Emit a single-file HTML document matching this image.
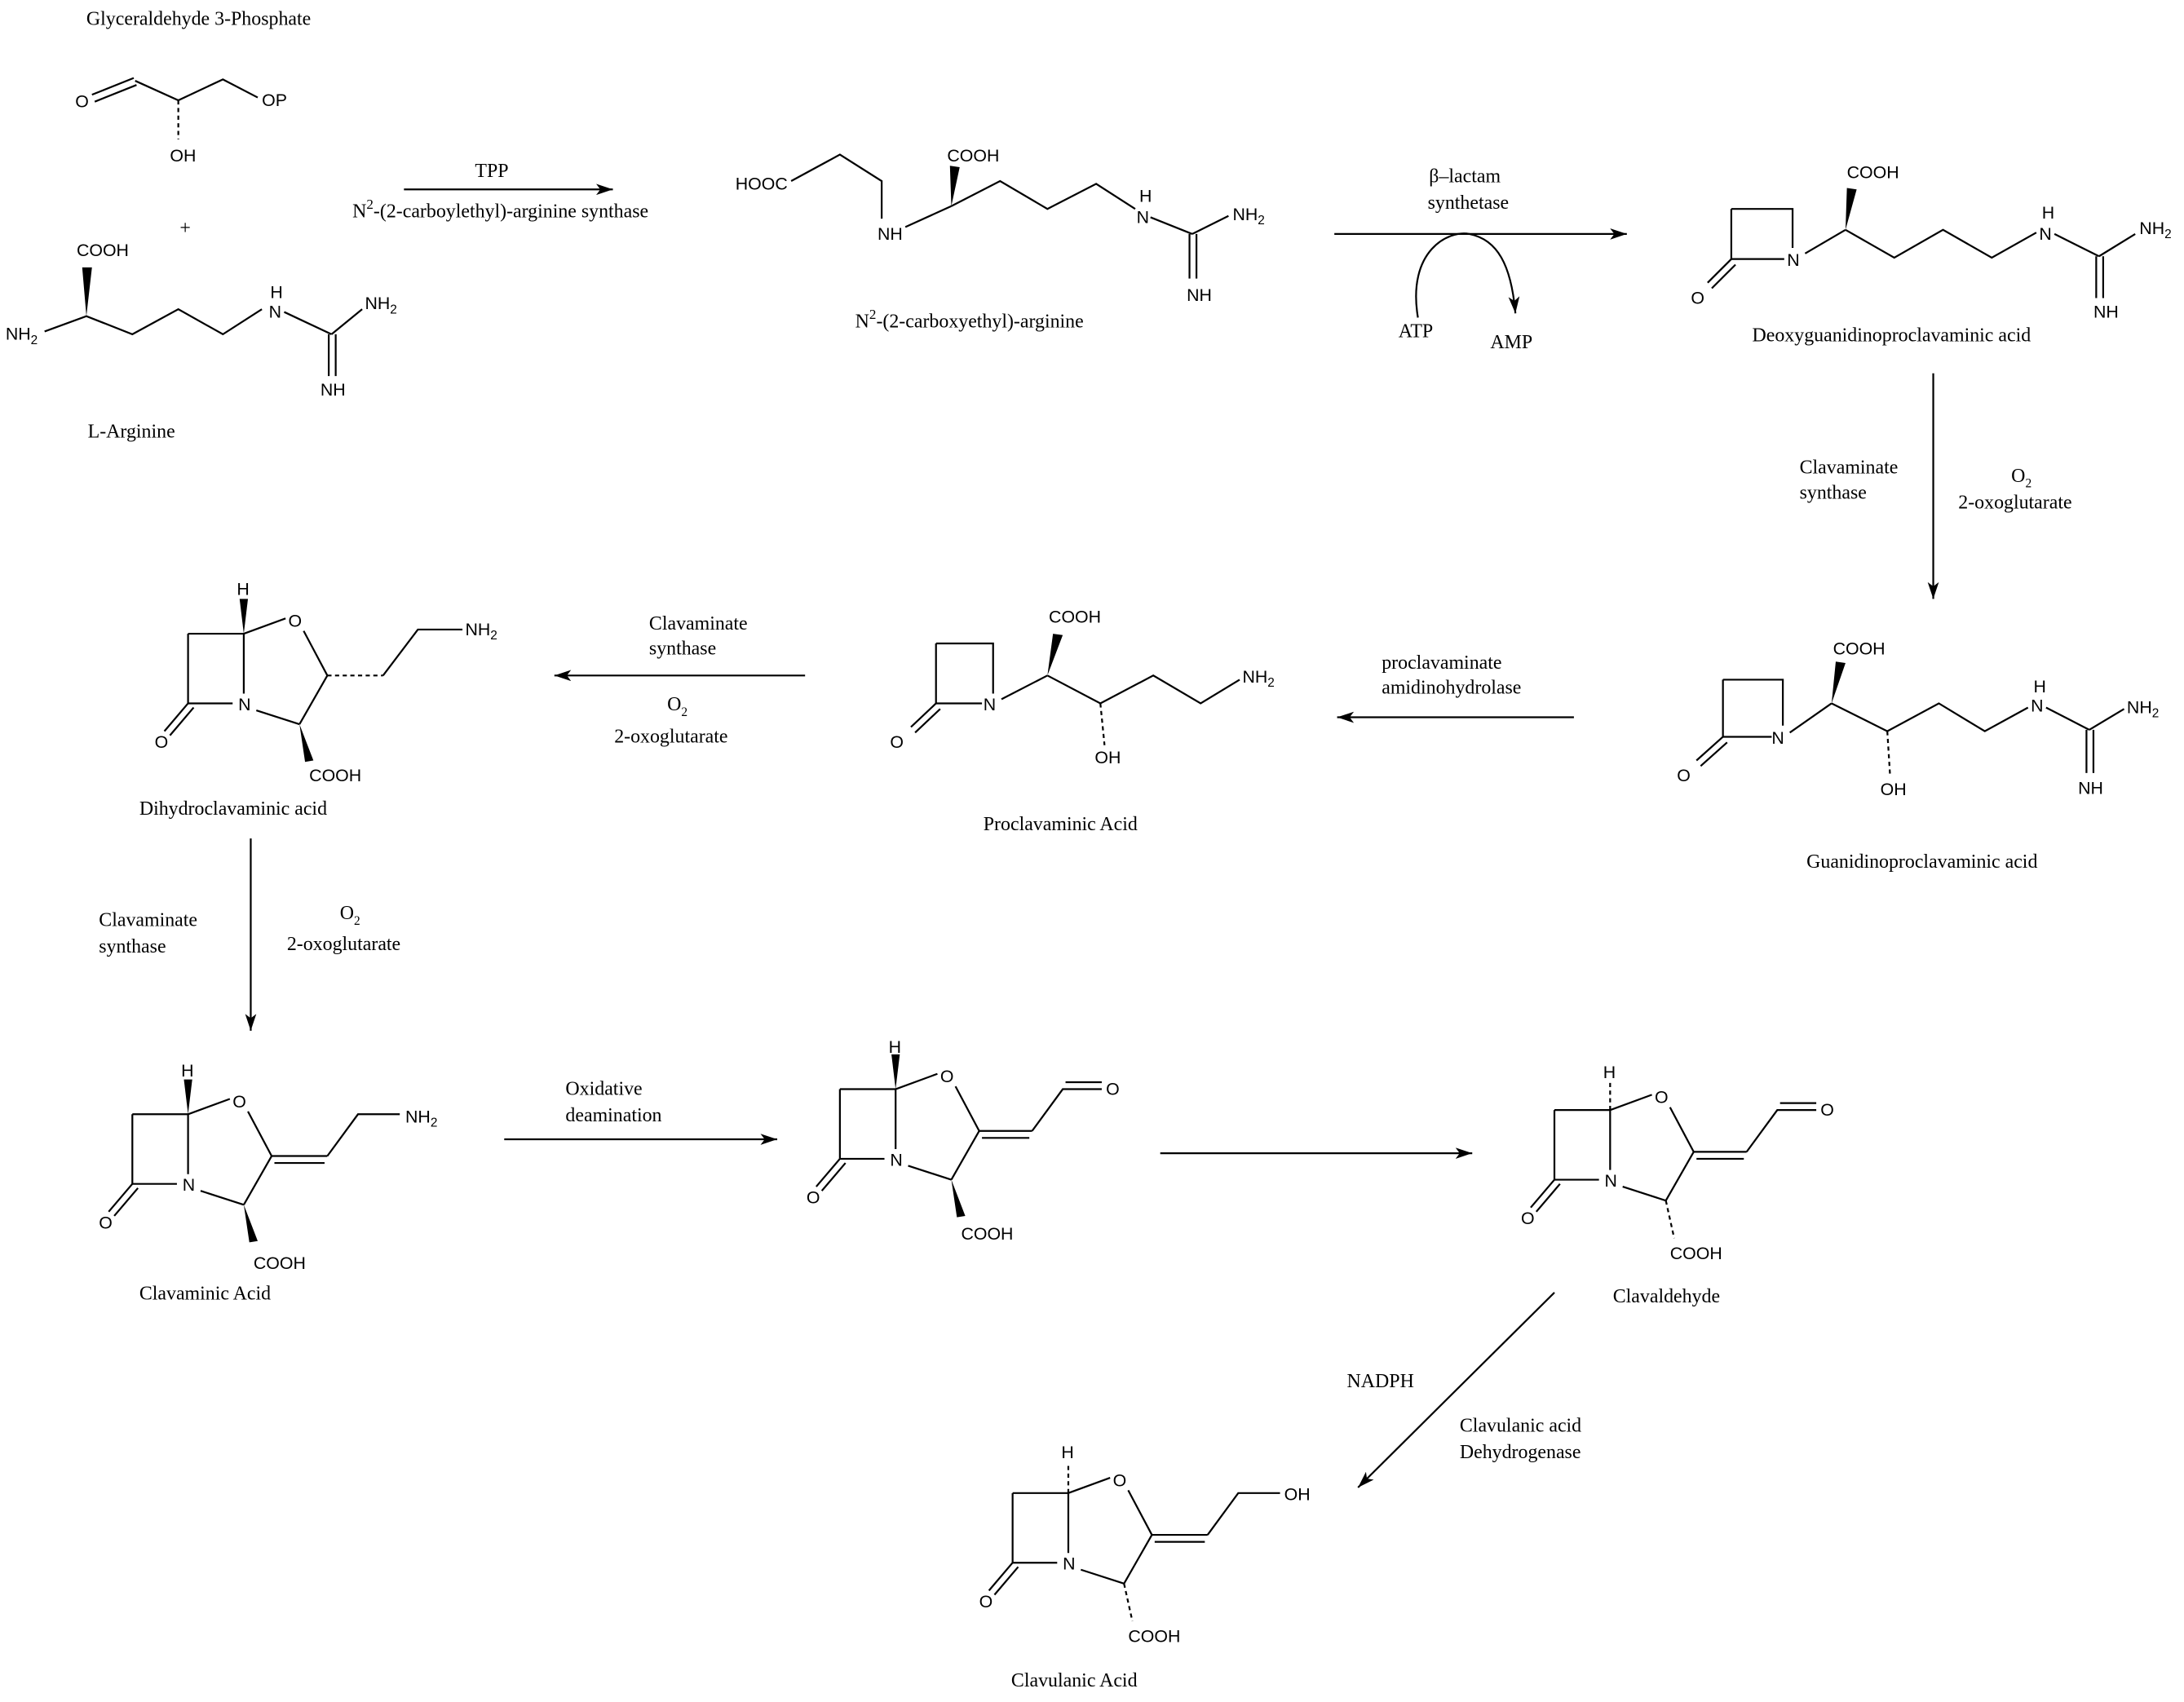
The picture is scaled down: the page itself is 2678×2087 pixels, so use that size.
<!DOCTYPE html>
<html><head><meta charset="utf-8"><style>
html,body{margin:0;padding:0;background:#fff}
svg{display:block}
.s{font-family:"Liberation Serif",serif;font-size:14px;fill:#000}
.a{font-family:"Liberation Sans",sans-serif;font-size:12.5px;fill:#000}
line,polyline,path{stroke:#000;stroke-width:1.3;fill:none}
.d{stroke-dasharray:3,2.5}
</style></head><body>
<svg width="2678" height="2087" viewBox="0 0 1568 1222" xmlns="http://www.w3.org/2000/svg">
<defs>
<marker id="ah" viewBox="0 0 12 8" refX="12" refY="4" markerWidth="12" markerHeight="8" markerUnits="userSpaceOnUse" orient="auto"><path d="M0,0 L12,4 L0,8 L3,4 Z" style="fill:#000;stroke:none"/></marker>
<g id="core">
 <polyline points="-40,0 0,0 0,43"/>
 <line x1="-40" y1="0" x2="-40" y2="50"/>
 <line x1="-40" y1="50" x2="-8" y2="50"/>
 <line x1="-40" y1="50" x2="-57" y2="70"/>
 <line x1="-36" y1="53" x2="-53" y2="73"/>
 <text class="a" x="-64" y="82">O</text>
 <text class="a" x="-4" y="55">N</text>
 <line x1="0" y1="0" x2="30" y2="-11"/>
 <text class="a" x="32" y="-5">O</text>
 <line x1="43" y1="-2" x2="60" y2="30"/>
 <line x1="60" y1="30" x2="40" y2="65"/>
 <line x1="9" y1="55" x2="40" y2="65"/>
</g>
</defs>

<!-- Glyceraldehyde -->
<text class="s" x="62" y="18">Glyceraldehyde 3-Phosphate</text>
<text class="a" x="54" y="77">O</text>
<line x1="66" y1="68" x2="96" y2="56"/><line x1="68" y1="73" x2="98" y2="61"/>
<polyline points="97,58 128,72 160,57 185,70"/>
<text class="a" x="188" y="76">OP</text>
<line class="d" x1="128" y1="72" x2="128" y2="100"/>
<text class="a" x="122" y="116">OH</text>
<text class="s" x="129" y="168">+</text>

<!-- L-Arginine -->
<text class="a" x="55" y="184">COOH</text>
<polygon points="62,227 59,192 66,192" fill="#000"/>
<text class="a" x="4" y="244">NH<tspan font-size="9" dy="3">2</tspan></text>
<polyline points="32,238 62,227 95,240 128,222 160,240 188,222"/>
<text class="a" x="193" y="228">N</text><text class="a" x="194" y="214">H</text>
<line x1="204" y1="224" x2="238" y2="240"/>
<line x1="238" y1="240" x2="260" y2="222"/>
<text class="a" x="262" y="222">NH<tspan font-size="9" dy="3">2</tspan></text>
<line x1="236" y1="240" x2="236" y2="270"/><line x1="241" y1="240" x2="241" y2="270"/>
<text class="a" x="230" y="284">NH</text>
<text class="s" x="63" y="314">L-Arginine</text>

<!-- arrow 1 -->
<line x1="290" y1="136" x2="440" y2="136" marker-end="url(#ah)"/>
<text class="s" x="341" y="127">TPP</text>
<text class="s" x="253" y="156">N<tspan font-size="10" dy="-6">2</tspan><tspan dy="6">-(2-carboylethyl)-arginine synthase</tspan></text>

<!-- N2-carboxyethyl-arginine -->
<text class="a" x="528" y="136">HOOC</text>
<polyline points="568,130 603,111 633,130 633,157"/>
<text class="a" x="630" y="172">NH</text>
<line x1="650" y1="163" x2="683" y2="148"/>
<polygon points="683,148 682,119 689,120" fill="#000"/>
<text class="a" x="680" y="116">COOH</text>
<polyline points="683,148 718,130 752,150 787,132 815,150"/>
<text class="a" x="816" y="160">N</text><text class="a" x="818" y="145">H</text>
<line x1="826" y1="156" x2="856" y2="168"/>
<line x1="856" y1="168" x2="882" y2="155"/>
<text class="a" x="885" y="158">NH<tspan font-size="9" dy="3">2</tspan></text>
<line x1="854" y1="168" x2="854" y2="200"/><line x1="859" y1="168" x2="859" y2="200"/>
<text class="a" x="852" y="216">NH</text>
<text class="s" x="614" y="235">N<tspan font-size="10" dy="-6">2</tspan><tspan dy="6">-(2-carboxyethyl)-arginine</tspan></text>

<!-- arrow 2 -->
<line x1="958" y1="168" x2="1168" y2="168" marker-end="url(#ah)"/>
<text class="s" x="1026" y="131">β–lactam</text>
<text class="s" x="1025" y="150">synthetase</text>
<path d="M1018,228 C1010,180 1040,165 1055,168 C1075,172 1085,190 1088,225" marker-end="url(#ah)"/>
<text class="s" x="1004" y="242">ATP</text>
<text class="s" x="1070" y="250">AMP</text>

<!-- Deoxyguanidinoproclavaminic -->
<polyline points="1243,150 1287,150 1287,178"/>
<line x1="1243" y1="150" x2="1243" y2="186"/>
<line x1="1243" y1="186" x2="1281" y2="186"/>
<line x1="1243" y1="186" x2="1226" y2="203"/><line x1="1246" y1="190" x2="1229" y2="207"/>
<text class="a" x="1214" y="218">O</text>
<text class="a" x="1283" y="191">N</text>
<line x1="1296" y1="182" x2="1325" y2="165"/>
<polygon points="1325,165 1326,135 1333,136" fill="#000"/>
<text class="a" x="1326" y="128">COOH</text>
<polyline points="1325,165 1360,185 1395,165 1430,185 1462,167"/>
<text class="a" x="1464" y="172">N</text><text class="a" x="1466" y="157">H</text>
<line x1="1475" y1="168" x2="1507" y2="184"/>
<line x1="1507" y1="184" x2="1533" y2="168"/>
<text class="a" x="1536" y="168">NH<tspan font-size="9" dy="3">2</tspan></text>
<line x1="1505" y1="184" x2="1505" y2="214"/><line x1="1510" y1="184" x2="1510" y2="214"/>
<text class="a" x="1503" y="228">NH</text>
<text class="s" x="1258" y="245">Deoxyguanidinoproclavaminic acid</text>

<!-- arrow 3 -->
<line x1="1388" y1="268" x2="1388" y2="430" marker-end="url(#ah)"/>
<text class="s" x="1292" y="340">Clavaminate</text>
<text class="s" x="1292" y="358">synthase</text>
<text class="s" x="1444" y="346">O<tspan font-size="9" dy="4">2</tspan></text>
<text class="s" x="1406" y="365">2-oxoglutarate</text>

<!-- Guanidinoproclavaminic -->
<polyline points="1237,488 1280,488 1280,521"/>
<line x1="1237" y1="488" x2="1237" y2="529"/>
<line x1="1237" y1="529" x2="1272" y2="529"/>
<line x1="1237" y1="529" x2="1218" y2="546"/><line x1="1240" y1="533" x2="1221" y2="550"/>
<text class="a" x="1204" y="561">O</text>
<text class="a" x="1272" y="534">N</text>
<line x1="1285" y1="526" x2="1315" y2="505"/>
<polygon points="1315,505 1318,475 1325,476" fill="#000"/>
<text class="a" x="1316" y="470">COOH</text>
<polyline points="1315,505 1355,525 1392,505 1425,525 1456,508"/>
<line class="d" x1="1355" y1="525" x2="1357" y2="557"/>
<text class="a" x="1350" y="571">OH</text>
<text class="a" x="1458" y="511">N</text><text class="a" x="1460" y="497">H</text>
<line x1="1469" y1="508" x2="1500" y2="524"/>
<line x1="1500" y1="524" x2="1525" y2="509"/>
<text class="a" x="1527" y="512">NH<tspan font-size="9" dy="3">2</tspan></text>
<line x1="1498" y1="524" x2="1498" y2="555"/><line x1="1503" y1="524" x2="1503" y2="555"/>
<text class="a" x="1492" y="570">NH</text>
<text class="s" x="1297" y="623">Guanidinoproclavaminic acid</text>

<!-- arrow 4 -->
<line x1="1130" y1="515" x2="960" y2="515" marker-end="url(#ah)"/>
<text class="s" x="992" y="480">proclavaminate</text>
<text class="s" x="992" y="498">amidinohydrolase</text>

<!-- Proclavaminic -->
<polyline points="672,462 713,462 713,498"/>
<line x1="672" y1="462" x2="672" y2="505"/>
<line x1="672" y1="505" x2="705" y2="505"/>
<line x1="672" y1="505" x2="654" y2="522"/><line x1="675" y1="509" x2="657" y2="526"/>
<text class="a" x="639" y="537">O</text>
<text class="a" x="706" y="510">N</text>
<line x1="719" y1="502" x2="752" y2="485"/>
<polygon points="752,485 756,455 763,456" fill="#000"/>
<text class="a" x="753" y="447">COOH</text>
<polyline points="752,485 790,505 828,485 862,505 890,488"/>
<line class="d" x1="790" y1="505" x2="793" y2="535"/>
<text class="a" x="786" y="548">OH</text>
<text class="a" x="892" y="490">NH<tspan font-size="9" dy="3">2</tspan></text>
<text class="s" x="706" y="596">Proclavaminic Acid</text>

<!-- arrow 5 -->
<line x1="578" y1="485" x2="398" y2="485" marker-end="url(#ah)"/>
<text class="s" x="466" y="452">Clavaminate</text>
<text class="s" x="466" y="470">synthase</text>
<text class="s" x="479" y="510">O<tspan font-size="9" dy="4">2</tspan></text>
<text class="s" x="441" y="533">2-oxoglutarate</text>

<!-- Dihydroclavaminic -->
<g transform="translate(175,455)">
 <use href="#core"/>
 <polygon points="0,0 -3,-25 3,-25" fill="#000"/>
 <text class="a" x="-5" y="-28">H</text>
 <polygon points="40,65 44,92 50,91" fill="#000"/>
 <text class="a" x="47" y="106">COOH</text>
 <line class="d" x1="60" y1="30" x2="100" y2="30"/>
 <polyline points="100,30 125,-3 157,-3"/>
 <text class="a" x="159" y="1">NH<tspan font-size="9" dy="3">2</tspan></text>
</g>
<text class="s" x="100" y="585">Dihydroclavaminic acid</text>

<!-- arrow 6 -->
<line x1="180" y1="602" x2="180" y2="740" marker-end="url(#ah)"/>
<text class="s" x="71" y="665">Clavaminate</text>
<text class="s" x="71" y="684">synthase</text>
<text class="s" x="244" y="660">O<tspan font-size="9" dy="4">2</tspan></text>
<text class="s" x="206" y="682">2-oxoglutarate</text>

<!-- Clavaminic acid -->
<g transform="translate(135,800)">
 <use href="#core"/>
 <polygon points="0,0 -3,-25 3,-25" fill="#000"/>
 <text class="a" x="-5" y="-27">H</text>
 <polygon points="40,65 44,92 50,91" fill="#000"/>
 <text class="a" x="47" y="111">COOH</text>
 <line x1="60" y1="30" x2="100" y2="30"/><line x1="62" y1="35" x2="98" y2="35"/>
 <polyline points="100,30 122,0 152,0"/>
 <text class="a" x="156" y="6">NH<tspan font-size="9" dy="3">2</tspan></text>
</g>
<text class="s" x="100" y="933">Clavaminic Acid</text>

<!-- arrow 7 -->
<line x1="362" y1="818" x2="558" y2="818" marker-end="url(#ah)"/>
<text class="s" x="406" y="786">Oxidative</text>
<text class="s" x="406" y="805">deamination</text>

<!-- intermediate aldehyde -->
<g transform="translate(643,782)">
 <use href="#core"/>
 <polygon points="0,0 -3,-25 3,-25" fill="#000"/>
 <text class="a" x="-5" y="-26">H</text>
 <polygon points="40,65 44,92 50,91" fill="#000"/>
 <text class="a" x="47" y="108">COOH</text>
 <line x1="60" y1="30" x2="98" y2="30"/><line x1="62" y1="35" x2="96" y2="35"/>
 <polyline points="98,30 120,0 148,0"/>
 <line x1="122" y1="-5" x2="148" y2="-5"/>
 <text class="a" x="151" y="4">O</text>
</g>

<!-- arrow 8 -->
<line x1="833" y1="828" x2="1057" y2="828" marker-end="url(#ah)"/>

<!-- Clavaldehyde -->
<g transform="translate(1156,797)">
 <use href="#core"/>
 <line class="d" x1="0" y1="0" x2="0" y2="-22"/>
 <text class="a" x="-5" y="-23">H</text>
 <line class="d" x1="40" y1="65" x2="46" y2="92"/>
 <text class="a" x="43" y="107">COOH</text>
 <line x1="60" y1="30" x2="98" y2="30"/><line x1="62" y1="35" x2="96" y2="35"/>
 <polyline points="98,30 120,0 148,0"/>
 <line x1="122" y1="-5" x2="148" y2="-5"/>
 <text class="a" x="151" y="4">O</text>
</g>
<text class="s" x="1158" y="935">Clavaldehyde</text>

<!-- arrow 9 -->
<line x1="1116" y1="928" x2="975" y2="1068" marker-end="url(#ah)"/>
<text class="s" x="967" y="996">NADPH</text>
<text class="s" x="1048" y="1028">Clavulanic acid</text>
<text class="s" x="1048" y="1047">Dehydrogenase</text>

<!-- Clavulanic -->
<g transform="translate(767,1072)">
 <use href="#core"/>
 <line class="d" x1="0" y1="0" x2="0" y2="-22"/>
 <text class="a" x="-5" y="-25">H</text>
 <line class="d" x1="40" y1="65" x2="46" y2="92"/>
 <text class="a" x="43" y="107">COOH</text>
 <line x1="60" y1="30" x2="100" y2="30"/><line x1="62" y1="35" x2="98" y2="35"/>
 <polyline points="100,30 122,0 152,0"/>
 <text class="a" x="155" y="5">OH</text>
</g>
<text class="s" x="726" y="1211">Clavulanic Acid</text>
</svg>
</body></html>
